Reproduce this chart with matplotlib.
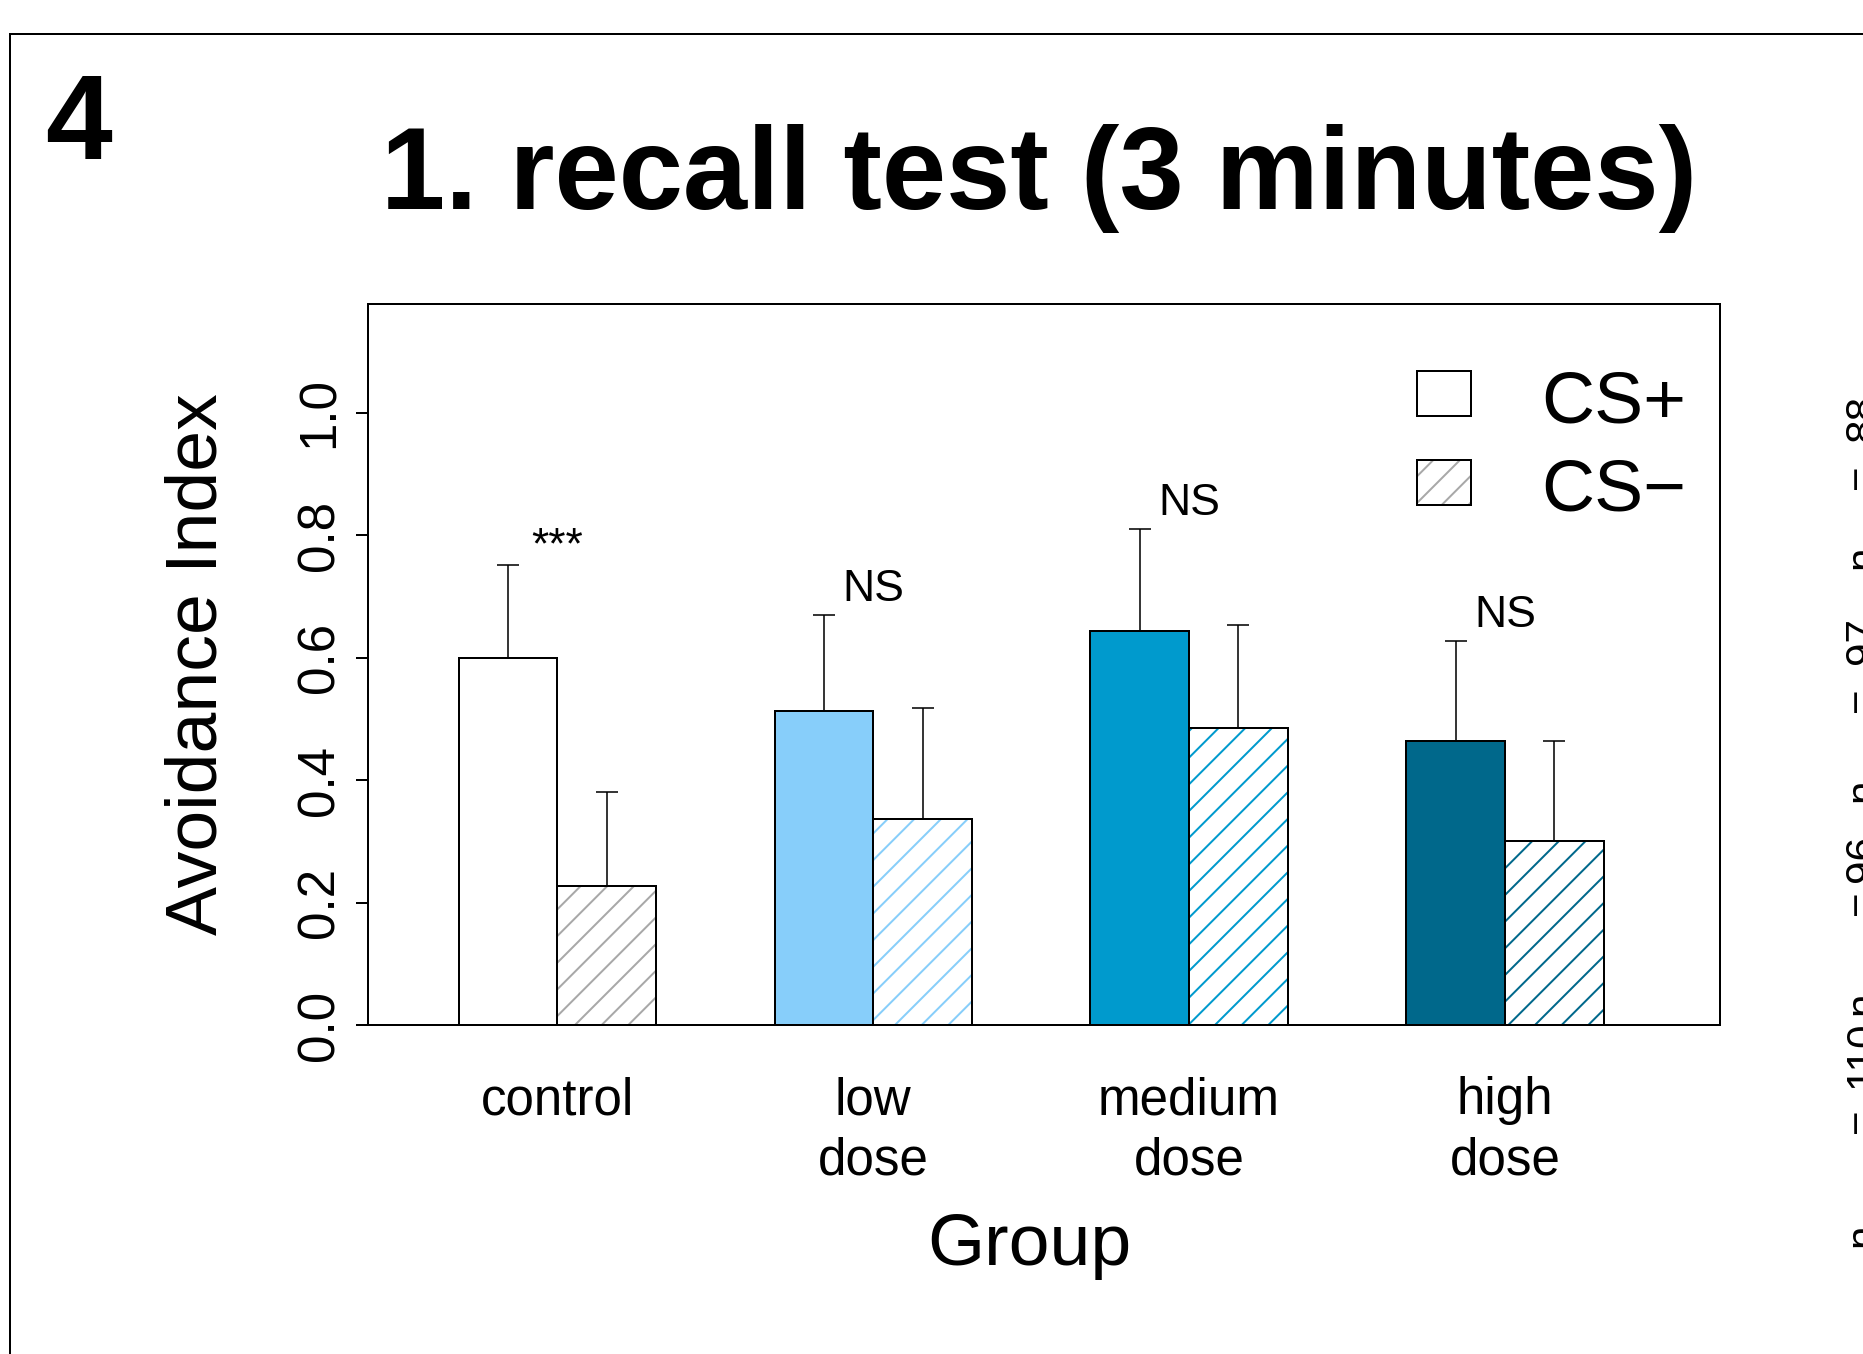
import numpy as np
import matplotlib
matplotlib.use("Agg")
import matplotlib.pyplot as plt
from matplotlib.patches import Rectangle
from matplotlib.lines import Line2D

plt.rcParams['font.family'] = ['Liberation Sans', 'DejaVu Sans']
plt.rcParams['hatch.linewidth'] = 0.9

# data
groups = ['control', 'low\ndose', 'medium\ndose', 'high\ndose']
cs_plus = [0.600, 0.513, 0.643, 0.464]
cs_plus_err = [0.151, 0.157, 0.167, 0.163]
cs_minus = [0.227, 0.336, 0.485, 0.301]
cs_minus_err = [0.154, 0.182, 0.169, 0.163]
signif = ['***', 'NS', 'NS', 'NS']
fills = ['white', '#87CEFA', '#009ACD', '#00688B']
hatch_cols = ['#A8A8A8', '#87CEFA', '#009ACD', '#00688B']

# neighbouring panel's sample sizes (cut off at right edge)
n_sizes = [110, 96, 97, 88]
n_ypos = [1235, 1003, 790, 557]
eq_ypos = [1121, 903, 700, 477]
val_ypos = [1054, 858, 640, 418]

W, H, DPI = 1863, 1354, 160
fig = plt.figure(figsize=(W / DPI, H / DPI), dpi=DPI)
ax = fig.add_axes([368 / W, 1 - 1025 / H, 1352 / W, 721 / H])

pitch = 3.2
centers = 2.2 + pitch * np.arange(len(groups))
x_plus = centers - 0.5
x_minus = centers + 0.5

ax.bar(x_plus, cs_plus, width=1.0, color=fills, edgecolor='black', linewidth=0.9, zorder=2)
ax.bar(x_minus, cs_minus, width=1.0, color='white', edgecolor=hatch_cols, hatch='//', linewidth=0, zorder=2)
ax.bar(x_minus, cs_minus, width=1.0, fill=False, edgecolor='black', linewidth=0.9, zorder=3)

zeros = np.zeros(len(groups))
ax.errorbar(x_plus, cs_plus, yerr=[zeros, cs_plus_err], fmt='none', ecolor='black',
            elinewidth=0.7, capsize=5, capthick=0.7, zorder=4)
ax.errorbar(x_minus, cs_minus, yerr=[zeros, cs_minus_err], fmt='none', ecolor='black',
            elinewidth=0.7, capsize=5, capthick=0.7, zorder=4)

tops = np.array(cs_plus) + np.array(cs_plus_err)
for cx, top, s in zip(centers, tops, signif):
    off = 0.012 if s == '***' else 0.023
    ax.text(cx, top + off, s, ha='center', va='baseline', fontsize=20)

ax.set_xlim(0.28, 13.98)
ax.set_ylim(0, 1.178)
ax.set_xticks(centers)
ax.set_xticklabels(groups, fontsize=23, linespacing=1.3)
ax.tick_params(axis='x', length=0, pad=23)
ax.set_yticks(np.arange(0, 1.01, 0.2))
ax.set_yticklabels(['%.1f' % v for v in np.arange(0, 1.01, 0.2)], rotation=90, va='center', fontsize=23)
ax.tick_params(axis='y', length=5.4, width=0.9, pad=5)
for sp in ax.spines.values():
    sp.set_linewidth(0.9)

ax.text(0.489, -0.333, 'Group', transform=ax.transAxes, ha='center', va='baseline', fontsize=33)
ax.text(-0.112, 0.5, 'Avoidance Index', transform=ax.transAxes, ha='center', va='baseline',
        rotation=90, rotation_mode='anchor', fontsize=33)

# legend
leg_items = [('CS+', None, 0.845, 0.836), ('CS\u2212', '#A8A8A8', 0.721, 0.713)]
for label, hc, y0, yb in leg_items:
    if hc:
        ax.add_patch(Rectangle((0.776, y0), 0.040, 0.062, transform=ax.transAxes, facecolor='white',
                               edgecolor=hc, hatch='//', linewidth=0, zorder=5))
    ax.add_patch(Rectangle((0.776, y0), 0.040, 0.062, transform=ax.transAxes, fill=False,
                           edgecolor='black', linewidth=0.9, zorder=6))
    ax.text(0.868, yb, label, transform=ax.transAxes, ha='left', va='baseline', fontsize=33)

fig.text(1039 / W, 1 - 209 / H, '1. recall test (3 minutes)', ha='center', va='baseline',
         fontsize=52, fontweight='bold')
fig.text(45 / W, 1 - 159 / H, '4', ha='left', va='baseline', fontsize=54, fontweight='bold')

# outer panel frame
fig.add_artist(Line2D([10 / W, 1.01], [1 - 34 / H, 1 - 34 / H], transform=fig.transFigure, color='black', lw=0.9))
fig.add_artist(Line2D([10 / W, 10 / W], [1 - 34 / H, -0.01], transform=fig.transFigure, color='black', lw=0.9))

for n, yn, ye, yv in zip(n_sizes, n_ypos, eq_ypos, val_ypos):
    for s, yy in (('n', yn), ('=', ye), (str(n), yv)):
        fig.text(1874 / W, 1 - yy / H, s, ha='center', va='baseline', rotation=90,
                 rotation_mode='anchor', fontsize=19)

fig.savefig('out.png', dpi=DPI)
